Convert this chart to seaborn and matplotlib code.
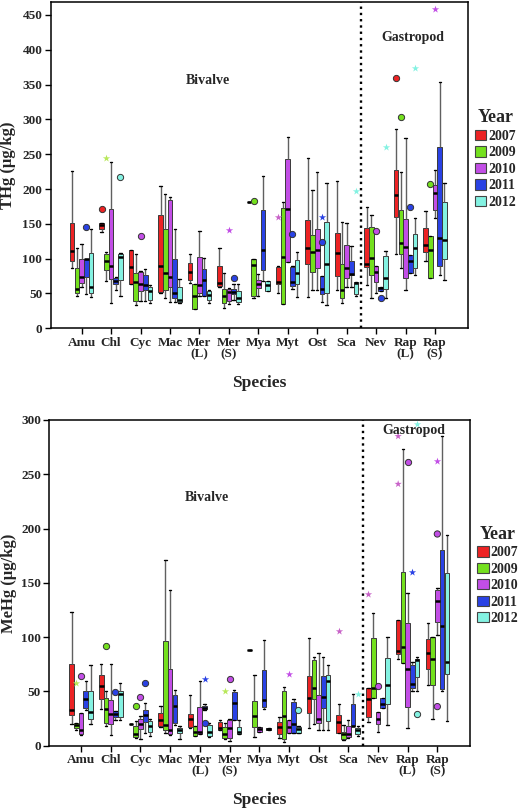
import numpy as np
import pandas as pd
import seaborn as sns
import matplotlib.pyplot as plt
from matplotlib.patches import Patch

species = ["Amu", "Chl", "Cyc", "Mac", "MerL", "MerS", "Mya", "Myt", "Ost", "Sca", "Nev", "RapL", "RapS"]
tick_labels = ["Amu", "Chl", "Cyc", "Mac", "Mer\n(L)", "Mer\n(S)", "Mya", "Myt", "Ost", "Sca", "Nev", "Rap\n(L)", "Rap\n(S)"]
years = ["2007", "2009", "2010", "2011", "2012"]
year_colors = ["#ec2324", "#74e01e", "#c24ee6", "#2a42e4", "#84f2e2"]
star_colors = ["#c862c8", "#b8e85a", "#c24ee6", "#2a42e4", "#84f2e2"]

# THg (ug/kg): (min, q1, median, q3, max) for each species
thg_2007 = [(86, 96, 111, 151, 226), (138, 142, 148, 151, 151), (63, 64, 88, 112, 112), (50, 52, 90, 162, 205),
            (65, 69, 81, 94, 107), (60, 61, 65, 90, 116), (182, 182, 182, 182, 182), (50, 63, 66, 88, 90),
            (45, 93, 115, 155, 244), (55, 75, 108, 137, 211), (62, 88, 93, 144, 174), (107, 160, 191, 228, 286),
            (96, 109, 119, 144, 169)]
thg_2009 = [(47, 51, 57, 87, 115), (68, 83, 96, 106, 110), (33, 39, 66, 79, 106), (43, 55, 79, 142, 193),
            (27, 28, 46, 64, 64), (29, 37, 46, 56, 79), (43, 47, 91, 100, 100), (35, 35, 103, 173, 182),
            (55, 81, 110, 134, 199), (36, 44, 55, 93, 153), (43, 77, 101, 146, 162), (86, 106, 122, 170, 225),
            (72, 72, 113, 132, 132)]
thg_2010 = [(60, 65, 74, 100, 121), (37, 71, 89, 171, 239), (39, 53, 64, 81, 82), (38, 60, 73, 184, 188),
            (47, 50, 62, 102, 140), (35, 39, 52, 57, 58), (46, 58, 64, 70, 78), (95, 95, 172, 243, 275),
            (55, 86, 112, 143, 224), (59, 72, 86, 119, 151), (50, 67, 81, 90, 90), (55, 72, 117, 157, 273),
            (159, 170, 194, 206, 228)]
thg_2011 = [(49, 73, 99, 100, 100), (55, 63, 68, 72, 74), (39, 55, 62, 76, 85), (38, 43, 51, 100, 143),
            (47, 47, 69, 85, 101), (40, 49, 52, 56, 63), (68, 84, 112, 170, 218), (57, 61, 67, 88, 90),
            (38, 49, 57, 75, 75), (59, 77, 78, 97, 118), (53, 54, 58, 60, 60), (79, 79, 97, 105, 105),
            (76, 90, 130, 260, 354)]
thg_2012 = [(45, 50, 59, 108, 142), (47, 70, 103, 107, 108), (37, 40, 54, 60, 62), (37, 38, 40, 60, 71),
            (36, 40, 48, 53, 55), (35, 38, 44, 54, 64), (53, 53, 62, 68, 68), (45, 63, 79, 98, 109),
            (33, 50, 93, 152, 209), (47, 49, 65, 66, 66), (43, 56, 72, 104, 111), (76, 86, 115, 135, 158),
            (69, 99, 127, 182, 209)]
# outliers: (species, year, value, marker) - 'o' outlier, '*' extreme
thg_outliers = [("Amu", "2011", 145, "o"), ("Chl", "2007", 172, "o"), ("Chl", "2009", 244, "*"),
                ("Chl", "2012", 217, "o"), ("Cyc", "2010", 133, "o"), ("MerS", "2010", 141, "*"),
                ("MerS", "2011", 72, "o"), ("Mya", "2009", 183, "o"), ("Myt", "2007", 160, "*"),
                ("Myt", "2011", 135, "o"), ("Ost", "2011", 124, "o"), ("Ost", "2011", 160, "*"),
                ("Sca", "2012", 197, "*"), ("Nev", "2010", 139, "o"), ("Nev", "2011", 44, "o"),
                ("Nev", "2012", 261, "*"), ("RapL", "2007", 360, "o"), ("RapL", "2009", 303, "o"),
                ("RapL", "2011", 174, "o"), ("RapL", "2012", 374, "*"), ("RapS", "2009", 207, "o"),
                ("RapS", "2010", 459, "*")]

# MeHg (ug/kg)
mehg_2007 = [(20, 28, 33, 75, 123), (34, 43, 55, 65, 75), (20, 20, 20, 20, 20), (17, 18, 24, 30, 37),
             (16, 17, 25, 29, 47), (14, 14, 16, 22, 24), (88, 88, 88, 88, 88), (7, 11, 17, 22, 26),
             (16, 30, 44, 64, 99), (12, 12, 22, 28, 38), (22, 26, 43, 53, 53), (80, 84, 87, 116, 116),
             (56, 71, 85, 98, 113)]
mehg_2009 = [(14, 16, 19, 21, 21), (18, 21, 34, 44, 50), (7, 8, 11, 18, 23), (12, 14, 19, 96, 171),
             (9, 9, 13, 18, 18), (6, 7, 11, 17, 21), (8, 17, 27, 41, 65), (3, 6, 27, 50, 54),
             (20, 43, 53, 79, 82), (5, 6, 11, 13, 19), (44, 44, 53, 99, 122), (76, 76, 91, 160, 273),
             (25, 56, 80, 100, 100)]
mehg_2010 = [(10, 11, 14, 30, 30), (10, 20, 29, 42, 75), (6, 15, 20, 25, 27), (10, 11, 14, 71, 143),
             (11, 11, 13, 36, 60), (4, 7, 16, 24, 25), (13, 13, 15, 17, 17), (12, 12, 17, 24, 24),
             (14, 21, 25, 47, 85), (7, 8, 11, 18, 24), (13, 20, 25, 31, 31), (16, 36, 71, 113, 141),
             (102, 114, 133, 143, 145)]
mehg_2011 = [(33, 35, 43, 50, 60), (24, 26, 29, 32, 32), (12, 22, 28, 33, 39), (19, 21, 37, 47, 51),
             (33, 34, 35, 37, 38), (24, 24, 39, 49, 51), (34, 36, 42, 70, 97), (12, 12, 20, 40, 43),
             (14, 35, 45, 64, 82), (18, 18, 18, 38, 48), (35, 35, 38, 44, 44), (50, 53, 57, 74, 77),
             (50, 52, 110, 180, 285)]
mehg_2012 = [(20, 25, 31, 50, 74), (24, 26, 48, 50, 58), (9, 13, 18, 23, 25), (6, 12, 14, 16, 18),
             (8, 9, 13, 19, 21), (11, 11, 13, 17, 24), (14, 14, 15, 16, 16), (12, 12, 15, 17, 18),
             (14, 23, 60, 65, 74), (9, 11, 14, 16, 18), (19, 38, 56, 81, 100), (50, 63, 79, 80, 82),
             (23, 66, 77, 159, 194)]
mehg_outliers = [("Amu", "2009", 58, "*"), ("Amu", "2010", 64, "o"), ("Chl", "2009", 92, "o"),
                 ("Chl", "2011", 49, "o"), ("Cyc", "2009", 37, "o"), ("Cyc", "2010", 45, "o"),
                 ("Cyc", "2011", 58, "o"), ("MerL", "2011", 21, "o"), ("MerL", "2011", 61, "*"),
                 ("MerS", "2009", 50, "*"), ("MerS", "2010", 61, "o"), ("Myt", "2010", 66, "*"),
                 ("Myt", "2012", 33, "o"), ("Sca", "2007", 106, "*"), ("Sca", "2012", 48, "*"),
                 ("Nev", "2007", 140, "*"), ("Nev", "2010", 55, "o"), ("RapL", "2007", 241, "*"),
                 ("RapL", "2007", 285, "*"), ("RapL", "2010", 261, "o"), ("RapL", "2011", 160, "*"),
                 ("RapL", "2012", 29, "o"), ("RapL", "2012", 296, "*"), ("RapS", "2010", 195, "o"),
                 ("RapS", "2010", 36, "o"), ("RapS", "2010", 262, "*")]

sns.set_theme(style="ticks")
plt.rcParams["font.family"] = ["Liberation Serif", "DejaVu Serif"]
plt.rcParams["font.weight"] = "bold"
plt.rcParams["axes.labelweight"] = "bold"


# Turn the five-number summaries into long format so seaborn draws the boxes
def to_long(per_year):
    rows = []
    for year, stats in zip(years, per_year):
        for sp, five in zip(species, stats):
            for v in five:
                rows.append({"species": sp, "year": year, "value": v})
    return pd.DataFrame(rows)


def plot_panel(ax, per_year, outliers, ylabel, ymax, ystep, xlim, label_x, bivalve_xy, gastro_xy, legend_y):
    df = to_long(per_year)
    sns.boxplot(data=df, x="species", y="value", hue="year", order=species, hue_order=years,
                palette=year_colors, saturation=1, width=0.8, gap=0.02, whis=np.inf,
                linecolor="#3a3a3a", linewidth=0.7,
                medianprops={"color": "black", "linewidth": 1.8},
                whiskerprops={"color": "#606060", "linewidth": 1.0},
                capprops={"color": "black", "linewidth": 1.0},
                legend=False, ax=ax)

    out = pd.DataFrame(outliers, columns=["species", "year", "value", "marker"])
    circ = out[out["marker"] == "o"]
    star = out[out["marker"] == "*"]
    sns.stripplot(data=circ, x="species", y="value", hue="year", order=species, hue_order=years,
                  palette=year_colors, dodge=True, jitter=False, marker="o", size=4.5,
                  linewidth=0.7, edgecolor="#333333", legend=False, ax=ax)
    sns.stripplot(data=star, x="species", y="value", hue="year", order=species, hue_order=years,
                  palette=star_colors, dodge=True, jitter=False, marker="*", size=5.5,
                  linewidth=0, legend=False, ax=ax)

    ax.axvline(9.5, color="black", linestyle=":", linewidth=1.7)
    ax.text(*bivalve_xy, "Bivalve", ha="center", va="center", fontsize=10, fontweight="bold")
    ax.text(*gastro_xy, "Gastropod", ha="center", va="center", fontsize=10, fontweight="bold")

    ax.set_xlim(*xlim)
    ax.set_ylim(0, ymax)
    ax.set_yticks(np.arange(0, ymax + 1, ystep)[: int(ymax // ystep) + 1])
    ax.set_xticks(range(len(species)))
    ax.set_xticklabels(tick_labels, linespacing=0.95)
    ax.tick_params(axis="both", labelsize=9.5, length=4, width=1, color="black", pad=2)
    for s in ax.spines.values():
        s.set_color("black")
        s.set_linewidth(1.1)

    ax.set_xlabel("Species", fontsize=12.5, fontweight="bold")
    ax.set_ylabel(ylabel, fontsize=12, fontweight="bold")
    ax.xaxis.set_label_coords(0.5, -0.143)
    ax.xaxis.label.set_va("top")
    ax.yaxis.set_label_coords(label_x, 0.5)

    handles = [Patch(facecolor=c, edgecolor="#444444", linewidth=0.8) for c in year_colors]
    leg = ax.legend(handles, years, title="Year", loc="upper left", bbox_to_anchor=(1.016, legend_y),
                    frameon=False, fontsize=10, title_fontsize=13, borderaxespad=0, borderpad=0,
                    handlelength=0.85, handleheight=0.75, handletextpad=0.15, labelspacing=0.25)
    leg.get_title().set_fontweight("bold")


fig = plt.figure(figsize=(5.22, 8.10), dpi=100)
ax_top = fig.add_axes([0.0971, 0.5947, 0.7994, 0.4032])
ax_bot = fig.add_axes([0.0944, 0.0794, 0.806, 0.4021])

plot_panel(ax_top, [thg_2007, thg_2009, thg_2010, thg_2011, thg_2012], thg_outliers,
           "THg (μg/kg)", 469, 50, (-1.05, 13.12), -0.082, (4.29, 356), (11.25, 418), 0.67)
plot_panel(ax_bot, [mehg_2007, mehg_2009, mehg_2010, mehg_2011, mehg_2012], mehg_outliers,
           "MeHg (μg/kg)", 300, 50, (-1.07, 13.1), -0.077, (4.24, 229), (11.2, 290), 0.675)

fig.savefig("out.png", dpi=100)
